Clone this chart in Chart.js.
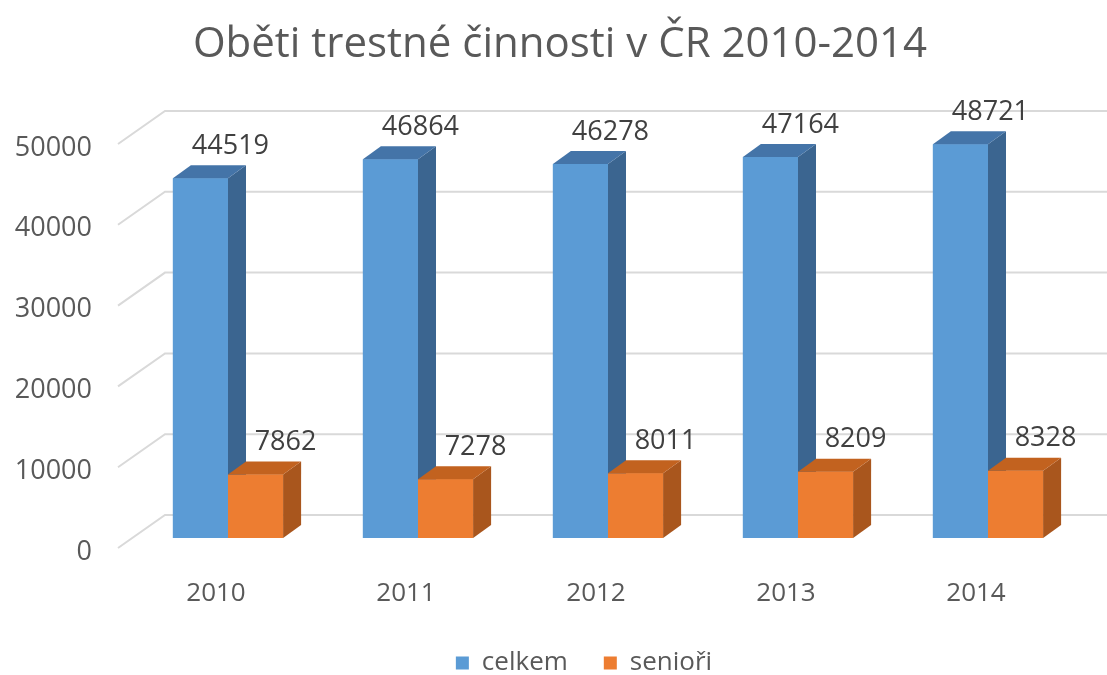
<!DOCTYPE html>
<html><head><meta charset="utf-8">
<script src="https://cdn.jsdelivr.net/npm/chart.js@4/dist/chart.umd.min.js"></script>
<style>html,body{margin:0;padding:0;background:#fff;}</style>
</head><body>
<canvas id="c" width="1107" height="675"></canvas>
<script>
const TITLE = 'Oběti trestné činnosti v ČR 2010-2014';
const categories = ['2010', '2011', '2012', '2013', '2014'];
const celkem = [44519, 46864, 46278, 47164, 48721];
const seniori = [7862, 7278, 8011, 8209, 8328];
const seriesNames = ['celkem', 'senioři'];
const yTickValues = [0, 10000, 20000, 30000, 40000, 50000];

const FONT = '"Open Sans", "Noto Sans", sans-serif';
const TEXT = '#595959';
const LABEL = '#404040';
const FACES = [
  {front: '#5b9bd5', side: '#3b6590', top: '#4474a8'},
  {front: '#ed7d31', side: '#a9561d', top: '#c2621f'}
];
const DEPTH = {dx: 18, dy: -13};

Chart.defaults.font.family = FONT;

const threeD = {
  id: 'threeD',
  beforeDatasetsDraw(chart) {
    const {ctx, chartArea} = chart;
    const y = chart.scales.y;
    ctx.save();
    ctx.strokeStyle = '#d9d9d9';
    ctx.lineWidth = 2;
    const fx = chartArea.left - 15, bx = chartArea.left + 32;
    yTickValues.forEach(v => {
      const p = y.getPixelForValue(v);
      ctx.beginPath();
      ctx.moveTo(fx, p + 10);
      ctx.lineTo(bx, p - 23);
      ctx.lineTo(chart.width, p - 23);
      ctx.stroke();
    });
    ctx.restore();
  },
  afterDatasetsDraw(chart) {
    const {ctx} = chart;
    const metas = chart.data.datasets.map((d, i) => chart.getDatasetMeta(i));
    const n = chart.data.labels.length;
    ctx.save();
    for (let j = 0; j < n; j++) {
      metas.forEach((meta, i) => {
        const el = meta.data[j];
        const {x, y, base, width} = el.getProps(['x', 'y', 'base', 'width'], true);
        const l = x - width / 2, r = x + width / 2;
        const f = FACES[i];
        ctx.fillStyle = f.front;
        ctx.fillRect(l, y, width, base - y);
        ctx.fillStyle = f.side;
        ctx.beginPath();
        ctx.moveTo(r, y); ctx.lineTo(r + DEPTH.dx, y + DEPTH.dy);
        ctx.lineTo(r + DEPTH.dx, base + DEPTH.dy); ctx.lineTo(r, base);
        ctx.closePath(); ctx.fill();
        ctx.fillStyle = f.top;
        ctx.beginPath();
        ctx.moveTo(l, y); ctx.lineTo(l + DEPTH.dx, y + DEPTH.dy);
        ctx.lineTo(r + DEPTH.dx, y + DEPTH.dy); ctx.lineTo(r, y);
        ctx.closePath(); ctx.fill();
      });
    }
    ctx.font = '27px ' + FONT;
    ctx.fillStyle = LABEL;
    ctx.textAlign = 'center';
    ctx.textBaseline = 'middle';
    metas.forEach((meta, i) => {
      meta.data.forEach((el, j) => {
        const {x, y} = el.getProps(['x', 'y'], true);
        ctx.fillText(String(chart.data.datasets[i].data[j]), x + 30, y - 32);
      });
    });
    ctx.restore();
  },
  afterDraw(chart) {
    const {ctx} = chart;
    ctx.save();
    ctx.font = '42px ' + FONT;
    ctx.fillStyle = TEXT;
    ctx.textAlign = 'center';
    ctx.textBaseline = 'middle';
    ctx.fillText(TITLE, 560, 45);
    // legend
    ctx.font = '26px ' + FONT;
    const box = 13, gap = 13, spacing = 36;
    const items = chart.data.datasets.map((d, i) => ({text: d.label, color: FACES[i].front, w: box + gap + ctx.measureText(d.label).width}));
    const total = items.reduce((s, it) => s + it.w, 0) + spacing * (items.length - 1);
    let cx = 584 - total / 2;
    const cy = 663;
    ctx.textAlign = 'left';
    items.forEach(it => {
      ctx.fillStyle = it.color;
      ctx.fillRect(cx, cy - box / 2, box, box);
      ctx.fillStyle = TEXT;
      ctx.fillText(it.text, cx + box + gap, cy);
      cx += it.w + spacing;
    });
    ctx.restore();
  }
};

new Chart(document.getElementById('c'), {
  type: 'bar',
  data: {
    labels: categories,
    datasets: [
      {label: seriesNames[0], data: celkem, backgroundColor: FACES[0].front},
      {label: seriesNames[1], data: seniori, backgroundColor: FACES[1].front}
    ]
  },
  options: {
    responsive: false,
    animation: false,
    devicePixelRatio: 1,
    layout: {padding: {top: 134, left: 0, right: 24, bottom: 0}},
    datasets: {bar: {categoryPercentage: 0.58, barPercentage: 1}},
    plugins: {legend: {display: false}, title: {display: false}, tooltip: {enabled: false}},
    scales: {
      x: {
        grid: {display: false}, border: {display: false},
        ticks: {font: {size: 26}, color: TEXT, padding: 32, labelOffset: -12},
        afterFit(s) { s.height = 137; }
      },
      y: {
        min: 0, max: 50000,
        grid: {display: false}, border: {display: false},
        ticks: {stepSize: 10000, font: {size: 27}, color: TEXT, padding: 33, labelOffset: 14, callback: v => String(v)},
        afterFit(s) { s.width = 133; }
      }
    }
  },
  plugins: [threeD]
});
</script>
</body></html>
